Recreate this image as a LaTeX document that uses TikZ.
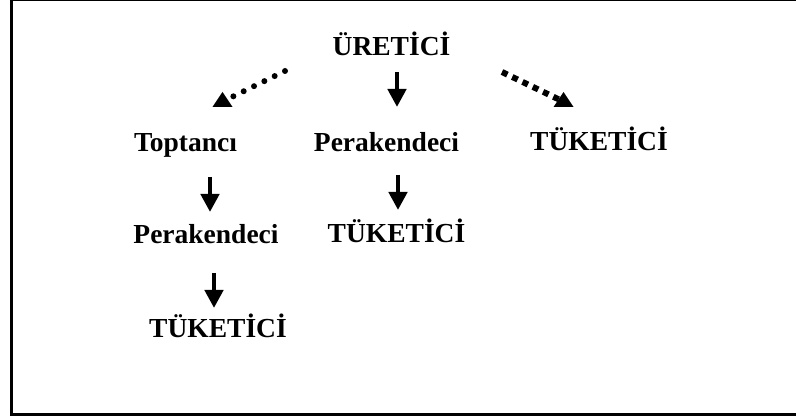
\documentclass[tikz,border=0pt]{standalone}
\usepackage{fontspec}
\setmainfont{Liberation Serif}
\usetikzlibrary{arrows.meta,calc,shapes.geometric}

\begin{document}
\begin{tikzpicture}[x=1pt, y=-1pt,
    lbl/.style={font=\fontsize{27.5}{30}\selectfont\bfseries, inner sep=0pt, outer sep=0pt, text height=18pt, text depth=0pt},
    down/.style={line width=4.5pt, -{Triangle[width=18pt, length=18pt]}},
    head/.style={fill=black, isosceles triangle, isosceles triangle stretches, shape border rotate=90, minimum width=20pt, minimum height=15pt, inner sep=0pt, outer sep=0pt, anchor=south},
    dots/.style={line width=6pt, line cap=round, dash pattern=on 0pt off 11.5pt},
    squares/.style={line width=6pt, dash pattern=on 6pt off 5.4pt}]
    \useasboundingbox (0,0) rectangle (796,419);
    \draw[line width=3pt] (11.5,0) rectangle (805,414.5);
    % labels
    \node[lbl] (uret) at (391.5,47) {ÜRETİCİ};
    \node[lbl] (topt) at (185.5,143) {Toptancı};
    \node[lbl] (per1) at (386.5,143) {Perakendeci};
    \node[lbl] (tuk1) at (599,141.5) {TÜKETİCİ};
    \node[lbl] (per2) at (206,235) {Perakendeci};
    \node[lbl] (tuk2) at (396.5,234) {TÜKETİCİ};
    \node[lbl] (tuk3) at (218,329) {TÜKETİCİ};
    % diagonal arrows
    \coordinate (ls) at (285,71);
    \coordinate (rs) at (502,72);
    \node[head] (lh) at (222.5,107) {};
    \node[head] (rh) at (563.5,107) {};
    \draw[dots] (ls) -- (lh);
    \draw[squares] (rs) -- (rh);
    % straight arrows
    \draw[down] ($(uret.south)+(5.5,16)$) -- ($(per1.north)+(10.5,-27)$);
    \draw[down] ($(topt.south)+(24.5,25)$) -- ($(per2.north)+(4,-14)$);
    \draw[down] ($(per2.south)+(8,29)$) -- ($(tuk3.north)+(-4,-12)$);
    \draw[down] ($(per1.south)+(11.5,23)$) -- ($(tuk2.north)+(1.5,-15)$);
\end{tikzpicture}
\end{document}
